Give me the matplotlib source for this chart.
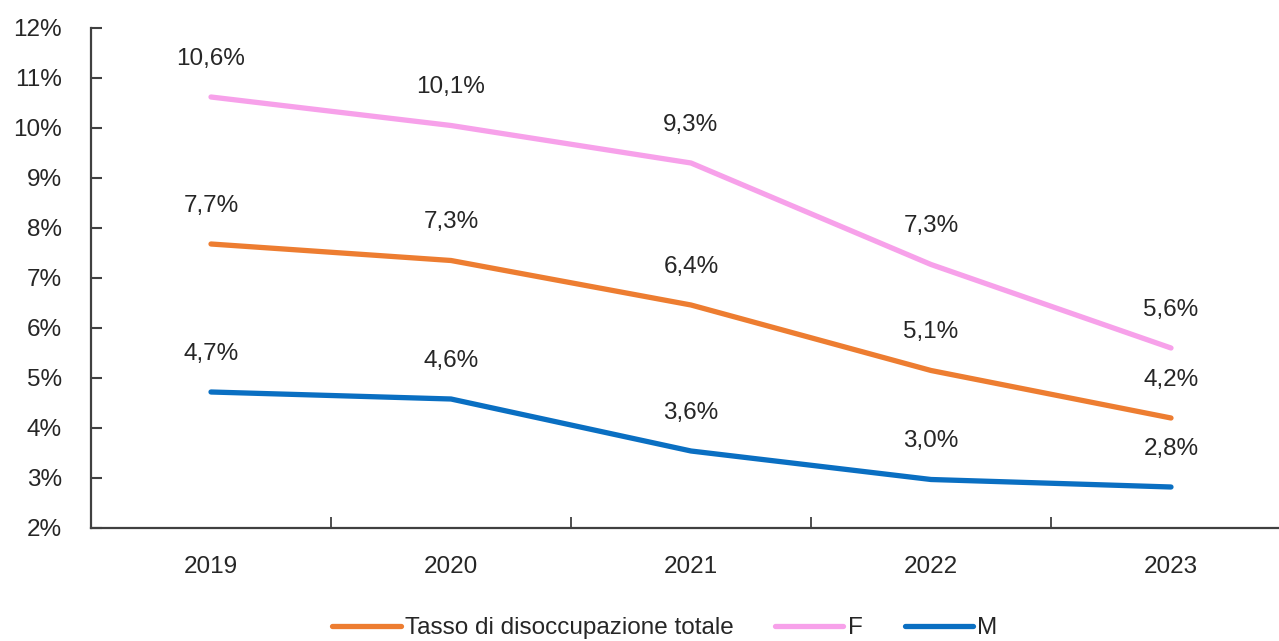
import numpy as np
import matplotlib.pyplot as plt
from matplotlib.ticker import FixedLocator

plt.rcParams['font.family'] = ['Liberation Sans', 'DejaVu Sans']

years = ["2019", "2020", "2021", "2022", "2023"]
totale = [7.68, 7.35, 6.46, 5.15, 4.2]
femmine = [10.62, 10.05, 9.3, 7.27, 5.6]
maschi = [4.72, 4.58, 3.54, 2.97, 2.82]
lab_totale = ["7,7%", "7,3%", "6,4%", "5,1%", "4,2%"]
lab_femmine = ["10,6%", "10,1%", "9,3%", "7,3%", "5,6%"]
lab_maschi = ["4,7%", "4,6%", "3,6%", "3,0%", "2,8%"]

fig = plt.figure(figsize=(12.79, 6.41), dpi=100)
ax = fig.add_axes([91 / 1279, 113 / 641, 1200 / 1279, 500 / 641])

x = np.arange(len(years))
series = [
    ("Tasso di disoccupazione totale", totale, lab_totale, "#ED7D31"),
    ("F", femmine, lab_femmine, "#F7A1EA"),
    ("M", maschi, lab_maschi, "#0A6FC2"),
]
for name, vals, labs, col in series:
    ax.plot(x, vals, color=col, lw=3.8, solid_capstyle="round",
            solid_joinstyle="round", label=name)
    for xi, v, t in zip(x, vals, labs):
        ax.annotate(t, (xi, v), xytext=(0, 27.5), textcoords="offset points",
                    ha="center", va="center", fontsize=17.5, color="#262626")

ax.set_xlim(-0.5, 4.5)
ax.set_ylim(2, 12)
ax.set_yticks(range(2, 13))
ax.set_yticklabels([f"{i}%" for i in range(2, 13)])
ax.set_xticks(x)
ax.set_xticklabels(years)
ax.xaxis.set_minor_locator(FixedLocator(x[:-1] + 0.5))
ax.tick_params(axis="x", which="major", length=0, pad=20, labelsize=17.5,
               colors="#262626")
ax.tick_params(axis="x", which="minor", direction="in", length=8, width=1.3,
               color="#404040")
ax.tick_params(axis="y", direction="in", length=8, width=1.5, pad=21,
               labelsize=17.5, colors="#262626", color="#404040")
for s in ["top", "right"]:
    ax.spines[s].set_visible(False)
for s in ["left", "bottom"]:
    ax.spines[s].set_color("#404040")
    ax.spines[s].set_linewidth(1.6)

fig.legend(loc="center", bbox_to_anchor=(0.52, 0.02), ncol=3, frameon=False,
           fontsize=17.5, handlelength=2.8, handletextpad=0.2,
           columnspacing=1.7, labelcolor="#262626")

fig.savefig("out.png", dpi=100)
